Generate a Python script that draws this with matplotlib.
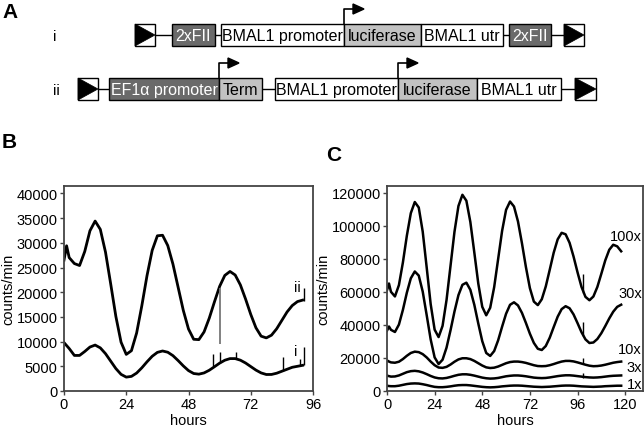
import numpy as np
import matplotlib
matplotlib.use("Agg")
import matplotlib.pyplot as plt
from matplotlib.patches import Rectangle, Polygon

plt.rcParams['font.family'] = ['Liberation Sans', 'DejaVu Sans']

# ---- panel B data (counts/min vs hours) ----
hours_b = [0, 1] + list(range(2, 93, 2))
ii_b = [26500, 29400, 27000, 25800, 25400, 28250, 32430, 34400, 32720, 28110,
        21690, 15080, 9880, 7410, 8160, 11740, 17250, 23340, 28470, 31420,
        31530, 29450, 25690, 21000, 16310, 12550, 10470, 10400, 11960, 14740,
        18040, 21180, 23400, 24200, 23480, 21480, 18620, 15510, 12800, 11100,
        10750, 11300, 12600, 14300, 16000, 17300, 18100, 18400]
i_b = [9800, 9200, 8600, 7200, 7200, 8000, 8900, 9300, 8730, 7560,
       6050, 4540, 3370, 2810, 2960, 3630, 4690, 5910, 7030, 7820,
       8100, 7850, 7160, 6160, 5080, 4130, 3540, 3410, 3660, 4200,
       4910, 5640, 6230, 6560, 6560, 6240, 5670, 4950, 4230, 3660,
       3340, 3350, 3600, 4000, 4400, 4800, 5000, 5200]
# short artefact spikes
spike_h_i = [57.5, 60, 66.5, 84.5, 91, 92.5]
spike_lo_i = [5000, 5600, 6600, 4000, 5000, 5200]
spike_hi_i = [7400, 7800, 7800, 6800, 6400, 9000]
spike_h_ii = [92.5]
spike_lo_ii = [18300]
spike_hi_ii = [20800]
gray_h, gray_lo, gray_hi = 60, 9600, 20800

# ---- panel C data ----
hours_c = [0, 1] + list(range(2, 119, 2))
c100 = [61000, 65000, 60000, 57200, 64030, 77680, 93920, 107570, 114310, 110990,
        96370, 74700, 52620, 37100, 32620, 39400, 55030, 75650, 96280, 111900,
        118680, 115080, 102230, 83760, 65000, 50910, 45800, 50340, 62790, 79790,
        96850, 109580, 114600, 111590, 102560, 89390, 74970, 62250, 54090, 51950,
        55510, 63210, 73330, 83660, 91720, 95680, 94790, 89640, 81340, 71830,
        63010, 56950, 54900, 57160, 62950, 70910, 79060, 85430, 88470, 87500,
        84500]
c30 = [36500, 39000, 37000, 35700, 40160, 49030, 59460, 68170, 72290, 69820,
       60110, 45870, 31220, 20330, 16300, 18920, 26230, 36700, 48060, 58000,
       64220, 65520, 61190, 52140, 40810, 30150, 23010, 21200, 24160, 30650,
       38900, 46720, 52140, 53650, 51760, 47260, 41170, 34680, 29090, 25540,
       24800, 27200, 32230, 38670, 44940, 49520, 51300, 50050, 46330, 41090,
       35600, 31230, 29030, 29340, 31450, 34960, 39310, 43900, 47970, 50900,
       52200]
c10 = [18500, 17800, 17300, 17100, 17700, 19300, 21300, 23000, 23800, 23500,
       22300, 20300, 17800, 15600, 14200, 14000, 14600, 16000, 17700, 19100,
       19800, 19800, 19300, 18200, 16800, 15400, 14300, 13900, 14100, 14800,
       15800, 16800, 17500, 17800, 17800, 17500, 17000, 16300, 15600, 15100,
       15000, 15100, 15600, 16300, 17100, 17800, 18200, 18200, 17900, 17300,
       16600, 15900, 15300, 15000, 15100, 15400, 15900, 16500, 17100, 17500,
       17800]
c3 = [9300, 9000, 8700, 8800, 9400, 10400, 11400, 12000, 12200, 11900,
      11200, 10200, 9100, 8200, 7700, 7600, 7900, 8500, 9200, 9800,
      10100, 10100, 9800, 9300, 8700, 8100, 7700, 7500, 7600, 7900,
      8400, 8900, 9200, 9400, 9400, 9200, 8900, 8500, 8100, 7900,
      7800, 7900, 8200, 8600, 9000, 9300, 9500, 9500, 9300, 9000,
      8700, 8400, 8200, 8100, 8200, 8400, 8700, 9000, 9200, 9300,
      9400]
c1 = [3200, 3000, 2900, 2900, 3200, 3700, 4200, 4500, 4600, 4500,
      4100, 3600, 3000, 2500, 2300, 2300, 2500, 2800, 3200, 3500,
      3600, 3600, 3400, 3100, 2800, 2500, 2300, 2200, 2300, 2500,
      2800, 3000, 3200, 3300, 3300, 3200, 3000, 2800, 2600, 2500,
      2400, 2500, 2600, 2800, 3000, 3200, 3300, 3300, 3200, 3000,
      2800, 2700, 2600, 2500, 2600, 2700, 2900, 3000, 3100, 3200,
      3200]
mark_h = 99
mark_lo = [59500, 33500, 16300, 8000]
mark_hi = [71000, 41600, 19900, 10800]
c_labels = ["100x", "30x", "10x", "3x", "1x"]
c_label_y = [93800, 59300, 25400, 14300, 4400]

# ---- panel A constructs: (x0, x1, text, kind) ----
row_i = [(135, 155, "", "tri"), (172, 215, "2xFII", "dark"),
         (221, 344, "BMAL1 promoter", "white"), (344, 421, "luciferase", "light"),
         (421, 503, "BMAL1 utr", "white"), (509, 551, "2xFII", "dark"),
         (564, 584, "", "tri")]
row_ii = [(78, 98, "", "tri"), (109, 219, "EF1α promoter", "dark"),
          (219, 262, "Term", "light"), (275, 398, "BMAL1 promoter", "white"),
          (398, 477, "luciferase", "light"), (477, 561, "BMAL1 utr", "white"),
          (575, 596, "", "tri")]

fig = plt.figure(figsize=(6.44, 4.27), dpi=100)
ax0 = fig.add_axes([0, 0, 1, 1])
ax0.set_xlim(0, 644)
ax0.set_ylim(427, 0)
ax0.axis("off")

face = {"dark": "#6a6a6a", "light": "#c2c2c2", "white": "white"}
txtc = {"dark": "white", "light": "black", "white": "black"}


def draw_row(parts, y0, y1, arrows):
    ym = (y0 + y1) / 2
    ax0.plot([parts[0][1], parts[-1][0]], [ym, ym], color="black", lw=1, zorder=1)
    for x0, x1, label, kind in parts:
        if kind == "tri":
            ax0.add_patch(Rectangle((x0, y0), x1 - x0, y1 - y0, fc="white",
                                    ec="black", lw=1, zorder=2))
            ax0.add_patch(Polygon([(x0, y0), (x0, y1), (x1, ym)], closed=True,
                                  fc="black", ec="black", lw=0.5, zorder=3))
        else:
            ax0.add_patch(Rectangle((x0, y0), x1 - x0, y1 - y0, fc=face[kind],
                                    ec="black", lw=1, zorder=2))
            ax0.text((x0 + x1) / 2, ym + 0.5, label, ha="center", va="center",
                     fontsize=11.5, color=txtc[kind], zorder=4)
    for xa in arrows:
        ytop = y0 - 15
        ax0.plot([xa, xa, xa + 10], [y0, ytop, ytop], color="black", lw=1.2, zorder=3)
        ax0.add_patch(Polygon([(xa + 9, ytop - 5), (xa + 9, ytop + 5), (xa + 20, ytop)],
                              closed=True, fc="black", ec="black", zorder=3))


draw_row(row_i, 25, 47, [344])
draw_row(row_ii, 79, 101, [219, 398])
ax0.text(55, 37, "i", ha="center", va="center", fontsize=11)
ax0.text(56, 91, "ii", ha="center", va="center", fontsize=11)
ax0.text(2, 12, "A", ha="left", va="center", fontsize=15, fontweight="bold")
ax0.text(2, 143, "B", ha="left", va="center", fontsize=15, fontweight="bold")
ax0.text(326, 156, "C", ha="left", va="center", fontsize=15, fontweight="bold")

spine_c = "#444444"


def style_axes(ax):
    for s in ax.spines.values():
        s.set_color(spine_c)
        s.set_linewidth(1.3)
    ax.tick_params(axis="both", direction="out", length=3, width=1, color=spine_c,
                   labelsize=10.5, pad=1.5)
    ax.set_xlabel("hours", fontsize=10.5, labelpad=1.5)
    ax.set_ylabel("counts/min", fontsize=10.5, labelpad=1)


# panel B
axb = fig.add_axes([64 / 644, 35 / 427, 249 / 644, 205 / 427])
axb.plot(hours_b, ii_b, color="black", lw=2.0)
axb.plot(hours_b, i_b, color="black", lw=2.0)
axb.vlines(spike_h_i, spike_lo_i, spike_hi_i, color="black", lw=1)
axb.vlines(spike_h_ii, spike_lo_ii, spike_hi_ii, color="black", lw=1)
axb.vlines(gray_h, gray_lo, gray_hi, color="#777777", lw=1.3)
axb.text(90, 21000, "ii", ha="center", va="center", fontsize=10.5)
axb.text(89.5, 8100, "i", ha="center", va="center", fontsize=10.5)
axb.set_xlim(0, 96)
axb.set_ylim(0, 41500)
axb.set_xticks([0, 24, 48, 72, 96])
axb.set_yticks(range(0, 40001, 5000))
style_axes(axb)

# panel C
axc = fig.add_axes([387 / 644, 35 / 427, 256 / 644, 205 / 427])
for series in [c100, c30, c10, c3, c1]:
    axc.plot(hours_c, series, color="black", lw=1.8)
axc.vlines([mark_h] * 4, mark_lo, mark_hi, color="black", lw=1)
for lab, yv in zip(c_labels, c_label_y):
    axc.text(128.5, yv, lab, ha="right", va="center", fontsize=10.5)
axc.set_xlim(0, 129)
axc.set_ylim(0, 124000)
axc.set_xticks([0, 24, 48, 72, 96, 120])
axc.set_yticks(range(0, 120001, 20000))
style_axes(axc)

fig.savefig("out.png", dpi=100)
